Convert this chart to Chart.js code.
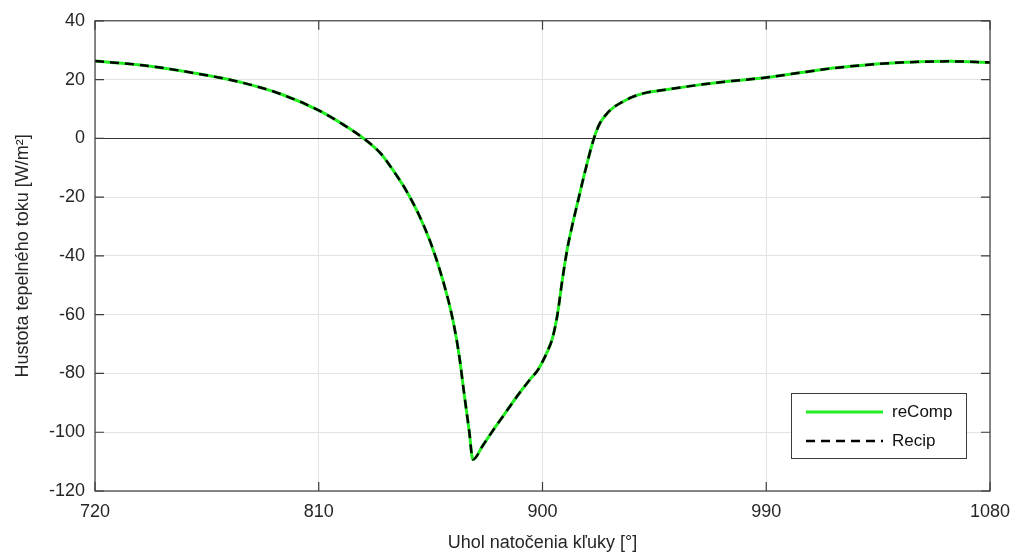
<!DOCTYPE html>
<html>
<head>
<meta charset="utf-8">
<script src="https://cdn.jsdelivr.net/npm/chart.js@4"></script>
<style>
  html, body { margin: 0; padding: 0; background: #fff; }
  #wrap { width: 1015px; height: 554px; }
</style>
</head>
<body>
<div id="wrap"><canvas id="fluxChart" width="1015" height="554"></canvas></div>
<script>
// crank angle [deg] and heat flux density [W/m2]
const crankAngle = [720, 740, 760, 780, 795, 810, 820, 828, 835, 840, 845, 850, 855, 860, 864, 866.5, 868.5, 870.5, 872,
  876, 880, 885, 890, 895, 898, 900, 902, 904, 906, 908, 910, 912, 914.5, 917.5, 920.5, 923, 926, 929, 932, 936, 941,
  950, 963, 975, 990, 1005, 1017, 1030, 1044, 1064, 1080];
const recompFlux = [26.3, 24.8, 22.2, 18.8, 15.0, 9.5, 4.6, 0, -5.2, -11, -17.5, -25.5, -35.5, -48.5, -62, -74, -87, -99.5, -109.3,
  -104.5, -99.5, -93.5, -87.5, -82, -79, -76, -72.5, -68, -60, -48, -37.5, -29.5, -20.5, -10, -0.5, 5, 8.5, 10.8, 12.3, 14, 15.4,
  16.6, 18.2, 19.4, 20.7, 22.5, 23.9, 25.0, 25.8, 26.2, 25.8];
const recipFlux = [26.3, 24.8, 22.2, 18.8, 15.0, 9.5, 4.6, 0, -5.2, -11, -17.5, -25.5, -35.5, -48.5, -62, -74, -87, -99.5, -109.3,
  -104.5, -99.5, -93.5, -87.5, -82, -79, -76, -72.5, -68, -60, -48, -37.5, -29.5, -20.5, -10, -0.5, 5, 8.5, 10.8, 12.3, 14, 15.4,
  16.6, 18.2, 19.4, 20.7, 22.5, 23.9, 25.0, 25.8, 26.2, 25.8];
const seriesNames = ['reComp', 'Recip'];
const xTicks = [720, 810, 900, 990, 1080];
const yTicks = [-120, -100, -80, -60, -40, -20, 0, 20, 40];

const FONT = 'Liberation Sans, Arial, sans-serif';
const TEXT = '#262626';

function toPoints(xs, ys) {
  return xs.map((x, i) => ({ x: x, y: ys[i] }));
}

// box, inner tick marks and legend, drawn over the plot
const boxPlugin = {
  id: 'boxPlugin',
  afterDatasetsDraw(chart) {
    const ctx = chart.ctx;
    const a = chart.chartArea;
    const xs = chart.scales.x, ys = chart.scales.y;
    ctx.save();
    ctx.strokeStyle = '#3c3c3c';
    ctx.lineWidth = 1.2;
    ctx.strokeRect(a.left, a.top, a.right - a.left, a.bottom - a.top);
    ctx.beginPath();
    xTicks.forEach(v => {
      const px = xs.getPixelForValue(v);
      ctx.moveTo(px, a.bottom); ctx.lineTo(px, a.bottom - 9);
      ctx.moveTo(px, a.top); ctx.lineTo(px, a.top + 9);
    });
    yTicks.forEach(v => {
      const py = ys.getPixelForValue(v);
      ctx.moveTo(a.left, py); ctx.lineTo(a.left + 9, py);
      ctx.moveTo(a.right, py); ctx.lineTo(a.right - 9, py);
    });
    ctx.stroke();

    // legend
    const lx = 791, ly = 393, lw = 175, lh = 65;
    ctx.fillStyle = '#fff';
    ctx.fillRect(lx, ly, lw, lh);
    ctx.strokeStyle = '#3c3c3c';
    ctx.lineWidth = 1;
    ctx.strokeRect(lx + 0.5, ly + 0.5, lw, lh);
    const rows = [ly + 19, ly + 48];
    chart.data.datasets.forEach((ds, i) => {
      ctx.beginPath();
      ctx.strokeStyle = ds.borderColor;
      ctx.lineWidth = ds.borderWidth;
      ctx.setLineDash(ds.borderDash || []);
      ctx.moveTo(lx + 15, rows[i]);
      ctx.lineTo(lx + 92, rows[i]);
      ctx.stroke();
      ctx.setLineDash([]);
      ctx.fillStyle = '#111';
      ctx.font = '17px ' + FONT;
      ctx.textBaseline = 'middle';
      ctx.fillText(ds.label, lx + 101, rows[i]);
    });
    ctx.restore();
  }
};

new Chart(document.getElementById('fluxChart'), {
  type: 'line',
  data: {
    datasets: [
      {
        label: seriesNames[0],
        data: toPoints(crankAngle, recompFlux),
        borderColor: '#22ee22',
        borderWidth: 3,
        pointRadius: 0,
        cubicInterpolationMode: 'monotone',
        fill: false,
        order: 1
      },
      {
        label: seriesNames[1],
        data: toPoints(crankAngle, recipFlux),
        borderColor: '#000000',
        borderWidth: 2.5,
        borderDash: [9, 6],
        pointRadius: 0,
        cubicInterpolationMode: 'monotone',
        fill: false,
        order: 0
      }
    ]
  },
  options: {
    responsive: false,
    animation: false,
    layout: { padding: { top: 19, right: 25, left: 12, bottom: 0 } },
    plugins: {
      legend: { display: false },
      tooltip: { enabled: false }
    },
    scales: {
      x: {
        type: 'linear',
        min: 720,
        max: 1080,
        afterBuildTicks: s => { s.ticks = xTicks.map(v => ({ value: v })); },
        afterFit: s => { s.height = 63; s.paddingRight = 0; s.paddingLeft = 0; },
        grid: { color: '#e3e3e3', lineWidth: 1, drawTicks: false },
        border: { display: false },
        ticks: {
          color: TEXT,
          font: { family: FONT, size: 18 },
          padding: 10,
          maxRotation: 0,
          callback: v => String(v)
        },
        title: {
          display: true,
          text: 'Uhol natočenia kľuky [°]',
          color: TEXT,
          font: { family: FONT, size: 18 },
          padding: { top: 4, bottom: 0 }
        }
      },
      y: {
        min: -120,
        max: 40,
        afterBuildTicks: s => { s.ticks = yTicks.map(v => ({ value: v })); },
        afterFit: s => { s.width = 83; },
        grid: {
          color: ctx => (ctx.tick && ctx.tick.value === 0 ? '#333333' : '#e3e3e3'),
          lineWidth: 1,
          drawTicks: false
        },
        border: { display: false },
        ticks: { color: TEXT, font: { family: FONT, size: 18 }, padding: 10 },
        title: {
          display: true,
          text: 'Hustota tepelného toku [W/m²]',
          color: TEXT,
          font: { family: FONT, size: 18 },
          padding: { top: 0, bottom: 6 }
        }
      }
    }
  },
  plugins: [boxPlugin]
});
</script>
</body>
</html>
